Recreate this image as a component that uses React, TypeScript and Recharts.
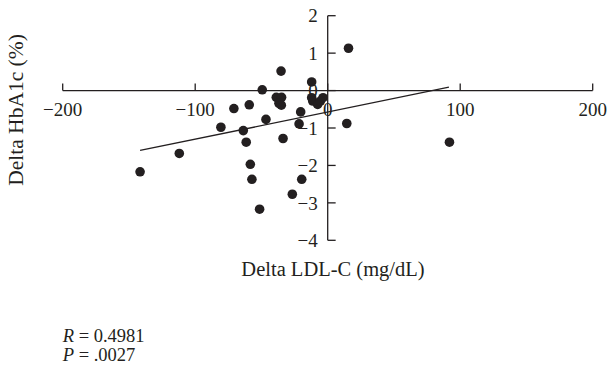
import React from "react";
import {
  ScatterChart,
  Scatter,
  XAxis,
  YAxis,
  ReferenceLine,
} from "recharts";

// Delta LDL-C (mg/dL) vs Delta HbA1c (%)
const ldlChange = [
  -141.6, -112, -80.6, -70.8, -59.2, -63.7, -61.5, -58.4, -57.2, -51.4, -49.4,
  -46.6, -35.2, -38.8, -34.8, -36.8, -35, -33.7, -26.7, -19.6, -20.4, -21.6,
  -12.1, -12.1, -11.3, -7.6, -3.5, -5.5, 15.7, 14.4, 91.9,
];
const hba1cChange = [
  -2.17, -1.68, -0.98, -0.48, -0.38, -1.07, -1.38, -1.97, -2.37, -3.17, 0.02,
  -0.77, 0.52, -0.18, -0.18, -0.34, -0.39, -1.28, -2.77, -2.37, -0.57, -0.89,
  0.23, -0.19, -0.28, -0.37, -0.19, -0.28, 1.13, -0.88, -1.38,
];

// fitted regression line end points
const fitX = [-141.6, 91.5];
const fitY = [-1.6, 0.09];

const xTicks = [-200, -100, 0, 100, 200];
const yTicks = [2, 1, 0, -1, -2, -3, -4];

const INK = "#231f20";
const FONT = "'Liberation Serif', 'Times New Roman', serif";
const W = 609;
const H = 366;

const points = ldlChange.map((x, i) => ({ x, y: hba1cChange[i] }));
const fitLine = fitX.map((x, i) => ({ x, y: fitY[i] }));

const fmt = (v: number) => (v < 0 ? `\u2212${Math.abs(v)}` : `${v}`);

const Dot = (props: any) => (
  <circle cx={props.cx} cy={props.cy} r={4.8} fill={INK} />
);
const NoDot = () => <g />;

export default function App() {
  return (
    <div style={{ position: "relative", width: W, height: H }}>
      <style>{"body { margin: 0; }"}</style>
      <ScatterChart
        width={W}
        height={H}
        margin={{ top: 15.7, right: 16.3, bottom: 125.7, left: 62.7 }}
      >
        <XAxis type="number" dataKey="x" domain={[-200, 200]} hide allowDataOverflow />
        <YAxis type="number" dataKey="y" domain={[-4, 2]} hide allowDataOverflow />

        {/* axis lines through the origin */}
        <ReferenceLine
          segment={[{ x: -200, y: 0 }, { x: 200, y: 0 }]}
          stroke={INK}
          strokeWidth={1.3}
        />
        <ReferenceLine
          segment={[{ x: 0, y: -4 }, { x: 0, y: 2 }]}
          stroke={INK}
          strokeWidth={1.3}
        />

        {xTicks.map((t) => (
          <ReferenceLine
            key={`xt${t}`}
            segment={[{ x: t, y: 0 }, { x: t, y: 0.19 }]}
            stroke={INK}
            strokeWidth={1.3}
            label={{
              value: fmt(t),
              position: "bottom",
              offset: 12,
              fill: INK,
              fontSize: 19,
              fontFamily: FONT,
            }}
          />
        ))}
        {yTicks.map((t) => (
          <ReferenceLine
            key={`yt${t}`}
            segment={[{ x: 0, y: t }, { x: 6, y: t }]}
            stroke={INK}
            strokeWidth={1.3}
            label={{
              value: fmt(t),
              position: "left",
              offset: 10,
              fill: INK,
              fontSize: 19,
              fontFamily: FONT,
            }}
          />
        ))}

        <Scatter
          data={fitLine}
          line={{ stroke: INK, strokeWidth: 1.3 }}
          shape={NoDot}
          isAnimationActive={false}
        />
        <Scatter data={points} shape={Dot} isAnimationActive={false} />
      </ScatterChart>

      <svg
        width={W}
        height={H}
        style={{ position: "absolute", left: 0, top: 0, pointerEvents: "none" }}
      >
        <g fill={INK} fontFamily={FONT}>
          <text x={333} y={275.7} textAnchor="middle" fontSize={20.5}>
            Delta LDL-C (mg/dL)
          </text>
          <text
            x={23}
            y={110}
            textAnchor="middle"
            fontSize={21.5}
            transform="rotate(-90, 23, 110)"
          >
            Delta HbA1c (%)
          </text>
          <text x={62.7} y={342.3} fontSize={18.5}>
            <tspan fontStyle="italic">R</tspan> = 0.4981
          </text>
          <text x={62.7} y={360.7} fontSize={18.5}>
            <tspan fontStyle="italic">P</tspan> = .0027
          </text>
        </g>
      </svg>
    </div>
  );
}
